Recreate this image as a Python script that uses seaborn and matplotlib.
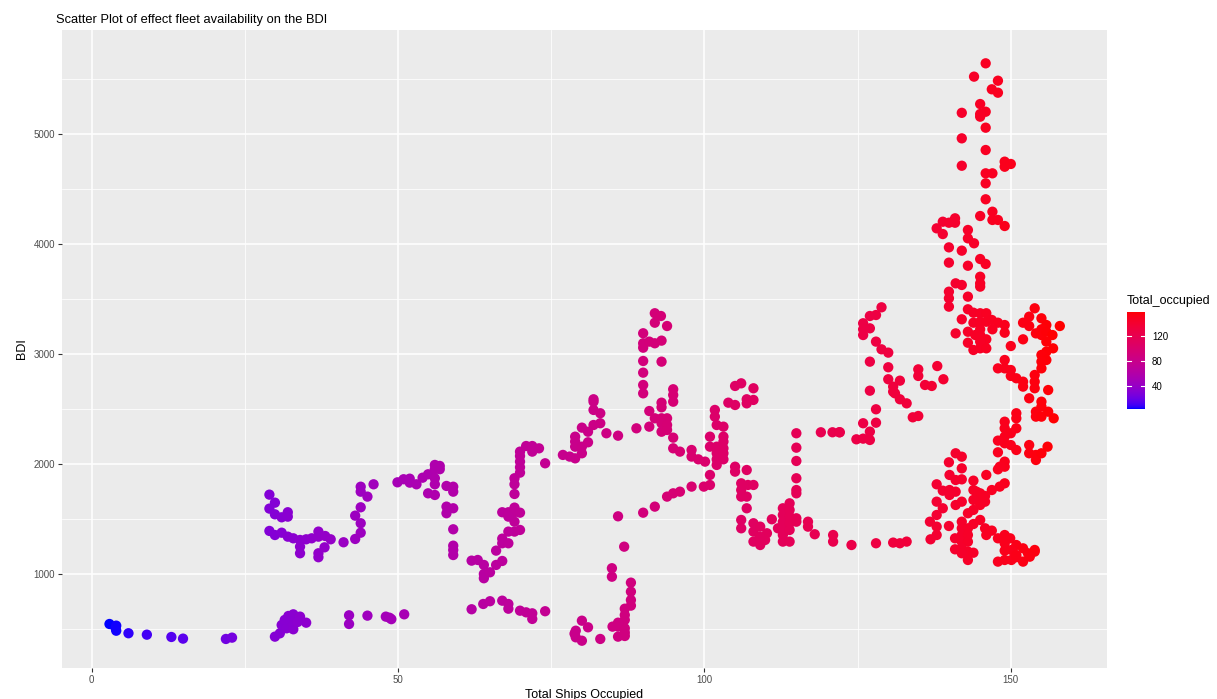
import numpy as np
import pandas as pd
import matplotlib
matplotlib.use("Agg")
import matplotlib.pyplot as plt
from matplotlib.colors import ListedColormap, Normalize
import seaborn as sns

# ---- data: total ships occupied vs Baltic Dry Index ----
ships_blue = [2.9, 4.0, 4.0, 3.9, 6.0, 9.0, 13.0, 14.9, 21.9, 22.9]
bdi_blue = [548, 533, 487, 510, 464, 451, 430, 415, 412, 424]

ships_low30 = [29.9, 30.7, 31.0, 31.8, 32.1, 32.9, 32.9, 34.0, 35.0, 32.5, 31.5, 33.6,
               42.0, 42.0, 45.0, 48.0, 48.6, 48.9, 51.0]
bdi_low30 = [433, 463, 539, 509, 621, 636, 500, 615, 560, 570, 585, 566,
             627, 548, 624, 615, 605, 592, 636]

ships_up30 = [29.0, 29.9, 29.0, 29.9, 31.0, 32.0, 32.0, 29.0, 29.9, 31.0, 32.0, 32.9,
              34.0, 35.0, 35.9, 37.0, 37.0, 38.1, 39.0, 34.0, 34.0, 37.0, 37.0, 38.0,
              41.1, 43.0, 43.9, 43.9, 43.0, 43.9, 45.0, 43.9, 43.9, 46.0]
bdi_up30 = [1724, 1651, 1597, 1545, 1518, 1564, 1524, 1394, 1357, 1378, 1342, 1327,
            1312, 1318, 1327, 1388, 1342, 1348, 1318, 1251, 1191, 1191, 1155, 1245,
            1291, 1321, 1378, 1464, 1533, 1609, 1706, 1751, 1796, 1818]

ships_up50 = [49.9, 50.9, 51.9, 51.9, 53.0, 54.0, 54.9, 56.0, 56.8, 56.0, 56.8, 56.0,
              56.0, 54.9, 56.0, 57.9, 59.0, 59.0, 57.9, 59.0, 57.9, 59.0, 59.0, 59.0,
              59.0, 62.0, 63.0, 64.0, 64.0, 64.0, 65.0, 66.0, 67.0, 66.0, 67.0, 67.0,
              68.0, 69.0, 69.9, 68.0, 69.0, 67.0, 68.0, 69.0, 69.0, 69.9, 68.0, 69.0,
              69.0, 69.0, 69.9, 69.9, 69.9, 69.9, 69.9, 70.9, 71.9, 73.0, 71.9, 74.0]
bdi_up50 = [1836, 1864, 1869, 1833, 1818, 1878, 1909, 1994, 1985, 1955, 1955, 1873,
            1818, 1736, 1721, 1803, 1796, 1751, 1615, 1600, 1555, 1409, 1260, 1221,
            1175, 1124, 1130, 1085, 1003, 964, 1018, 1085, 1121, 1215, 1282, 1324,
            1282, 1388, 1403, 1388, 1478, 1564, 1564, 1606, 1564, 1560, 1524, 1730,
            1818, 1873, 1924, 1973, 2024, 2075, 2115, 2166, 2166, 2145, 2115, 2009]

ships_low60 = [62.0, 63.9, 65.0, 67.0, 68.0, 68.0, 69.9, 70.9, 71.9, 71.9, 74.0]
bdi_low60 = [682, 730, 755, 760, 730, 687, 669, 654, 645, 594, 664]

ships_low80 = [80, 81, 79, 79, 80, 83, 88, 88, 88, 88, 87, 87, 87, 85.9, 85, 87, 87,
               85.9, 78.8, 85.9, 87, 84.9, 84.9, 85.9, 86.9]
bdi_low80 = [578, 518, 487, 427, 396, 412, 924, 842, 766, 715, 687, 630, 585, 524, 524,
             509, 439, 433, 460, 560, 470, 1055, 978, 1527, 1251]

ships_up80 = [81.9, 81.9, 81.9, 83, 83, 81.9, 81, 80, 78.9, 78.9, 78.9, 80, 81, 80,
              78.9, 78, 76.9, 84, 85.9, 88.9]
bdi_up80 = [2591, 2569, 2494, 2464, 2373, 2357, 2296, 2333, 2251, 2206, 2160, 2160,
            2200, 2100, 2054, 2070, 2085, 2282, 2260, 2327]

ships_peak90 = [91.9, 92.9, 91.9, 93.9, 90, 90, 90, 91, 91.9, 93, 90, 93, 90, 90, 90,
                94.9, 94.9, 94.9, 93, 93, 91, 91.9, 93, 93.9, 93, 93.9, 91, 93, 93.9,
                94.9, 94.9, 96, 97.9, 97.9, 99, 100.1]
bdi_peak90 = [3373, 3348, 3287, 3257, 3191, 3100, 3060, 3115, 3100, 3124, 2939, 2933,
              2833, 2721, 2645, 2682, 2630, 2569, 2560, 2518, 2484, 2418, 2418, 2418,
              2373, 2357, 2342, 2296, 2312, 2242, 2145, 2115, 2130, 2070, 2045, 2024]

ships_rise90 = [90, 91.9, 93.9, 94.9, 96, 97.9, 99.9, 100.9]
bdi_rise90 = [1560, 1615, 1706, 1736, 1751, 1797, 1797, 1812]

ships_up100 = [100.9, 101.7, 101.7, 102, 103.1, 103.1, 103.1, 100.9, 102, 103.1, 102,
               103.1, 102, 103.1, 102, 100.9, 105, 106, 108, 103.9, 105, 106.9, 106.9, 108]
bdi_up100 = [2251, 2494, 2433, 2357, 2342, 2251, 2206, 2160, 2160, 2145, 2100, 2100,
             2045, 2045, 1994, 1903, 2712, 2736, 2691, 2560, 2539, 2591, 2554, 2585]

ships_fall105 = [105, 105, 106.9, 106, 106, 107.1, 106, 106.9, 108, 106.9, 106, 106,
                 108, 108, 109.1, 108, 109.1, 109.9, 110.2, 111, 112, 109]
bdi_fall105 = [1978, 1933, 1948, 1827, 1766, 1812, 1706, 1706, 1812, 1600, 1494, 1418,
               1464, 1388, 1433, 1297, 1266, 1312, 1373, 1500, 1418, 1342]

ships_mid115 = [112.8, 112.8, 112.8, 112.8, 112.8, 112.8, 113.9, 113.9, 113.9, 113.9,
                115, 115, 113.9, 113.9, 115, 115, 115, 115, 115, 115, 116.9, 116.9,
                118, 121, 121, 124, 128, 130.8, 131.9, 133, 119, 120.9, 122]
bdi_mid115 = [1600, 1539, 1478, 1418, 1357, 1297, 1645, 1585, 1524, 1464,
              1509, 1478, 1403, 1297, 2282, 2151, 2030, 1873, 1766, 1736, 1478, 1433,
              1364, 1357, 1297, 1266, 1282, 1288, 1282, 1297, 2291, 2291, 2291]

ships_up125 = [128.9, 128.0, 127.0, 125.9, 127.0, 125.9, 125.9, 128.0, 128.9, 130.0,
               127.0, 130.0, 130.0, 131.9, 130.8, 130.8, 131.1, 131.9, 133.0, 127.0,
               128.0, 125.9, 128.0, 127.0, 124.8, 125.9, 127.0, 134.9, 134.9, 138.0,
               139.0, 136.0, 137.1, 134.9, 134.0, 122.1]
bdi_up125 = [3427, 3357, 3348, 3282, 3236, 3227, 3175, 3115, 3045, 3015,
             2933, 2882, 2773, 2760, 2706, 2660, 2645, 2591, 2554, 2669,
             2500, 2373, 2378, 2297, 2227, 2233, 2221, 2863, 2803, 2893,
             2773, 2721, 2712, 2439, 2427, 2291]

ships_tower = [145.9, 144.0, 147.9, 146.9, 147.9, 145.0, 145.9, 145.0, 145.0, 142.0,
               145.9, 142.0, 145.9, 142.0, 149.0, 149.0, 150.0, 145.9, 147.0, 145.9,
               145.9, 145.0, 147.0, 147.0, 147.9, 149.0, 140.9, 140.9, 138.9, 139.9,
               137.9, 138.9, 143.0, 143.0, 144.0, 139.9, 142.0, 145.0, 145.9, 139.9,
               143.0, 145.0]
bdi_tower = [5645, 5524, 5487, 5409, 5378, 5275, 5205, 5184, 5160, 5195,
             5060, 4963, 4857, 4714, 4751, 4705, 4730, 4645, 4645, 4554,
             4409, 4257, 4296, 4221, 4221, 4166, 4236, 4196, 4205, 4196,
             4145, 4093, 4130, 4054, 4009, 3972, 3942, 3866, 3821, 3833,
             3805, 3705]

ships_up140 = [141.0, 142.0, 145.0, 145.0, 139.9, 139.9, 139.9, 143.0, 143.0, 143.9,
               145.0, 146.0, 142.0, 143.9, 145.0, 146.0, 146.9, 147.9, 147.0, 145.0,
               143.0, 141.0, 144.2, 145.0, 146.0, 145.0, 143.0, 143.9, 145.0, 146.0,
               147.9]
bdi_up140 = [3645, 3630, 3645, 3615, 3569, 3509, 3433, 3524, 3409, 3378,
             3373, 3373, 3318, 3287, 3296, 3296, 3312, 3287, 3227, 3227,
             3205, 3190, 3175, 3175, 3136, 3115, 3105, 3039, 3054, 3054,
             2872]

ships_right150 = [153.9, 153.0, 152.0, 153.0, 155.0, 155.8, 155.0, 154.1, 155.0, 155.8,
                  156.8, 155.8, 158.0, 152.0, 150.0, 149.0, 149.0, 156.9, 155.8, 155.0,
                  155.8, 155.0, 155.0, 153.9, 153.9, 153.9, 156.1, 153.0, 155.0, 155.0,
                  154.1, 154.1, 155.0, 156.1, 157.0, 149.0, 149.0, 150.0, 150.0, 150.9,
                  152.0, 152.0, 150.9, 150.9, 149.0, 149.0, 150.9, 150.0, 149.0, 149.0,
                  150.0, 150.9, 153.0, 153.0, 154.1, 154.1, 155.0, 156.0, 149.0, 149.0]
bdi_right150 = [3418, 3342, 3287, 3257, 3327, 3266, 3227, 3190, 3175, 3205,
                3175, 3115, 3257, 3136, 3075, 3266, 3196, 3054, 3024, 2994,
                2948, 2933, 2872, 2812, 2751, 2691, 2675, 2600, 2569, 2524,
                2478, 2433, 2433, 2478, 2418, 2948, 2872, 2857, 2803, 2782,
                2751, 2706, 2464, 2418, 2387, 2327, 2327, 2282, 2251, 2191,
                2175, 2130, 2175, 2100, 2085, 2039, 2100, 2160, 2024, 1978]

ships_low140 = [147.9, 147.9, 148.2, 147.9, 146.0, 149.0, 148.2, 146.9, 143.9, 143.9,
                144.4, 145.0, 145.8, 144.7, 143.9, 145.8, 145.0, 143.9, 143.0, 145.0,
                143.9, 142.0, 142.0, 143.0, 142.0, 143.0, 140.9, 142.0, 143.0, 142.0,
                140.9, 143.0, 143.9, 143.0, 142.0, 145.8, 146.9, 146.0, 147.9, 149.0,
                149.9, 149.0, 150.9, 149.0, 150.1, 152.0, 150.9, 152.8, 153.9, 153.9,
                147.9, 149.0, 150.1, 152.0, 153.1, 150.9,
                141.0, 142.0, 139.9, 142.0, 140.0, 141.0, 142.0, 137.9, 138.9, 140.0,
                141.0, 140.0, 137.9, 138.9, 141.0, 142.0, 137.9, 136.8, 137.9, 137.9,
                136.9, 139.9]
bdi_low140 = [2215, 2109, 1978, 1954, 1903, 1827, 1797, 1766, 1851, 1766,
              1751, 1736, 1712, 1676, 1676, 1660, 1630, 1585, 1555, 1494,
              1457, 1478, 1418, 1418, 1357, 1357, 1327, 1296, 1296, 1236,
              1227, 1206, 1196, 1130, 1191, 1418, 1397, 1357, 1327, 1357,
              1327, 1282, 1266, 1215, 1221, 1236, 1175, 1191, 1221, 1206,
              1115, 1130, 1130, 1115, 1160, 1155,
              2100, 2069, 2018, 1963, 1903, 1857, 1863, 1818, 1760, 1766,
              1751, 1721, 1660, 1600, 1630, 1660, 1539, 1478, 1433, 1357,
              1318, 1439]

groups = [
    (ships_blue, bdi_blue), (ships_low30, bdi_low30), (ships_up30, bdi_up30),
    (ships_up50, bdi_up50), (ships_low60, bdi_low60), (ships_low80, bdi_low80),
    (ships_up80, bdi_up80), (ships_peak90, bdi_peak90), (ships_rise90, bdi_rise90),
    (ships_up100, bdi_up100), (ships_fall105, bdi_fall105), (ships_mid115, bdi_mid115),
    (ships_up125, bdi_up125), (ships_tower, bdi_tower), (ships_up140, bdi_up140),
    (ships_right150, bdi_right150), (ships_low140, bdi_low140),
]
df = pd.DataFrame({
    "Total_occupied": np.concatenate([g[0] for g in groups]).astype(float),
    "BDI": np.concatenate([g[1] for g in groups]).astype(float),
})


# ---- blue -> red gradient interpolated in CIELAB ----
def _srgb_to_lab(rgb):
    rgb = np.asarray(rgb, float)
    lin = np.where(rgb <= 0.04045, rgb / 12.92, ((rgb + 0.055) / 1.055) ** 2.4)
    m = np.array([[0.4124564, 0.3575761, 0.1804375],
                  [0.2126729, 0.7151522, 0.0721750],
                  [0.0193339, 0.1191920, 0.9503041]])
    xyz = m @ lin / np.array([0.95047, 1.0, 1.08883])
    f = np.where(xyz > 216 / 24389, np.cbrt(xyz), (24389 / 27 * xyz + 16) / 116)
    return np.array([116 * f[1] - 16, 500 * (f[0] - f[1]), 200 * (f[1] - f[2])])


def _lab_to_srgb(lab):
    L, a, b = lab
    fy = (L + 16) / 116
    fx = fy + a / 500
    fz = fy - b / 200
    def inv(t):
        return np.where(t ** 3 > 216 / 24389, t ** 3, (116 * t - 16) / (24389 / 27))
    xyz = np.array([inv(fx), inv(fy), inv(fz)]) * np.array([0.95047, 1.0, 1.08883])
    m = np.array([[3.2404542, -1.5371385, -0.4985314],
                  [-0.9692660, 1.8760108, 0.0415560],
                  [0.0556434, -0.2040259, 1.0572252]])
    lin = np.clip(m @ xyz, 0, 1)
    rgb = np.where(lin <= 0.0031308, 12.92 * lin, 1.055 * lin ** (1 / 2.4) - 0.055)
    return np.clip(rgb, 0, 1)


lab_lo = _srgb_to_lab([0, 0, 1])
lab_hi = _srgb_to_lab([1, 0, 0])
ramp = [_lab_to_srgb(lab_lo + t * (lab_hi - lab_lo)) for t in np.linspace(0, 1, 256)]
cmap = ListedColormap(ramp)

vmin, vmax = df["Total_occupied"].min(), df["Total_occupied"].max()
norm = Normalize(vmin=vmin, vmax=vmax)

# ---- figure ----
W, H = 1217, 699
fig = plt.figure(figsize=(W / 100, H / 100), dpi=100)
plt.rcParams["font.family"] = ["Liberation Sans", "DejaVu Sans"]

ax = fig.add_axes([62 / W, 1 - 668 / H, (1107 - 62) / W, (668 - 30) / H])
ax.set_facecolor("#EBEBEB")

sns.scatterplot(data=df, x="Total_occupied", y="BDI", hue="Total_occupied",
                palette=cmap, hue_norm=norm, s=55, linewidth=0, legend=False,
                ax=ax, zorder=3)

ax.set_xlim(-4.85, 165.7)
ax.set_ylim(148, 5948)
ax.set_xticks([0, 50, 100, 150])
ax.set_yticks([1000, 2000, 3000, 4000, 5000])
ax.set_xticks([25, 75, 125], minor=True)
ax.set_yticks([500, 1500, 2500, 3500, 4500, 5500], minor=True)
ax.grid(which="major", color="white", linewidth=1.1, zorder=0)
ax.grid(which="minor", color="white", linewidth=0.55, zorder=0)
ax.set_axisbelow(True)
for sp in ax.spines.values():
    sp.set_visible(False)
ax.tick_params(which="major", length=3, width=0.8, color="#333333",
               labelsize=7, labelcolor="#4D4D4D", pad=2)
ax.tick_params(which="minor", length=0)

ax.set_xlabel("Total Ships Occupied", fontsize=9, color="black", labelpad=3)
ax.set_ylabel("BDI", fontsize=9, color="black", labelpad=4)
fig.text(56 / W, 1 - 20 / H, "Scatter Plot of effect fleet availability on the BDI",
         fontsize=9.3, ha="left", va="center", color="black")

# ---- colour bar legend ----
cax = fig.add_axes([1127 / W, 1 - 409 / H, (1145 - 1127) / W, (409 - 312) / H])
grad = np.linspace(vmin, vmax, 300).reshape(-1, 1)
cax.imshow(grad, aspect="auto", cmap=cmap, norm=norm, origin="lower",
           extent=[0, 1, vmin, vmax])
cax.set_xlim(0, 1)
cax.set_ylim(vmin, vmax)
cax.set_xticks([])
cax.yaxis.tick_right()
cax.set_yticks([40, 80, 120])
cax.tick_params(axis="y", length=0, labelsize=7, labelcolor="black", pad=5)
for t in [40, 80, 120]:
    cax.plot([0, 0.2], [t, t], color="white", lw=0.8)
    cax.plot([0.8, 1], [t, t], color="white", lw=0.8)
for sp in cax.spines.values():
    sp.set_visible(False)
fig.text(1127 / W, 1 - 301 / H, "Total_occupied", fontsize=9, ha="left",
         va="center", color="black")

fig.savefig("out.png", dpi=100, facecolor="white")
